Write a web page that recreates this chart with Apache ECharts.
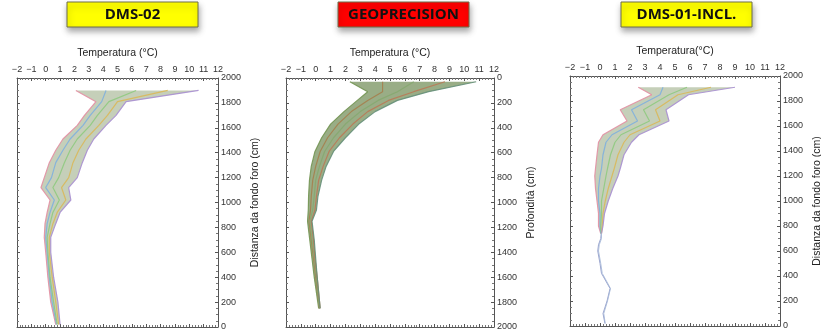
<!DOCTYPE html>
<html>
<head>
<meta charset="utf-8">
<script src="https://cdn.jsdelivr.net/npm/echarts/dist/echarts.min.js"></script>
<style>
html, body { margin: 0; padding: 0; background: #fff; }
#container { width: 821px; height: 334px; }
</style>
</head>
<body>
<div id="container"></div>
<script>
// DMS-02: distance from bottom of hole (cm) and temperature profiles (°C)
var depths1 = [1900, 1810, 1700, 1620, 1510, 1420, 1320, 1200, 1120, 1020, 920, 830, 720, 600, 400, 200, 20];
var cold1   = [2.1, 3.5, 2.7, 2.2, 1.2, 0.7, 0.25, -0.1, -0.33, 0.3, 0.1, -0.05, -0.1, 0.0, 0.15, 0.35, 0.7];
var mid1a   = [4.2, 3.9, 3.1, 2.6, 1.7, 1.2, 0.7, 0.4, 0.0, 0.6, 0.3, 0.1, 0.0, 0.1, 0.25, 0.45, 0.75];
var mid1b   = [6.3, 4.4, 3.6, 3.1, 2.2, 1.7, 1.3, 0.9, 0.5, 0.95, 0.5, 0.3, 0.1, 0.15, 0.3, 0.55, 0.8];
var mid1c   = [8.5, 5.0, 4.3, 3.7, 2.8, 2.3, 1.9, 1.6, 1.1, 1.4, 0.8, 0.5, 0.25, 0.25, 0.45, 0.7, 0.9];
var warm1   = [10.65, 5.6, 4.9, 4.2, 3.35, 2.9, 2.55, 2.2, 1.6, 1.75, 1.0, 0.7, 0.35, 0.35, 0.55, 0.85, 1.0];

// GEOPRECISION: depth (cm)
var depths2 = [30, 110, 180, 270, 370, 480, 590, 710, 820, 950, 1060, 1150, 1300, 1450, 1600, 1850];
var cold2   = [2.3, 3.5, 2.8, 1.9, 1.0, 0.4, -0.05, -0.3, -0.42, -0.48, -0.5, -0.55, -0.4, -0.25, -0.1, 0.2];
var mid2a   = [4.5, 4.5, 3.5, 2.4, 1.5, 0.8, 0.3, 0.0, -0.2, -0.3, -0.35, -0.45, -0.3, -0.15, 0.0, 0.25];
var mid2b   = [6.6, 5.5, 4.2, 3.0, 2.0, 1.2, 0.6, 0.25, 0.0, -0.1, -0.2, -0.4, -0.25, -0.1, 0.05, 0.25];
var mid2c   = [8.7, 6.6, 4.9, 3.5, 2.5, 1.6, 0.9, 0.5, 0.2, 0.05, -0.05, -0.3, -0.15, -0.05, 0.1, 0.3];
var warm2   = [10.8, 7.6, 5.5, 4.0, 2.9, 2.0, 1.2, 0.7, 0.4, 0.15, 0.05, -0.25, -0.1, 0.0, 0.1, 0.3];

// DMS-01-INCL.: distance from bottom of hole (cm)
var depths3 = [1910, 1850, 1730, 1640, 1530, 1470, 1370, 1260, 1200, 1100, 1000, 900, 800, 740];
var cold3   = [2.55, 3.45, 1.35, 1.8, 0.2, -0.1, -0.2, -0.3, -0.35, -0.3, -0.2, -0.1, -0.1, 0.05];
var mid3a   = [4.2, 4.0, 2.1, 2.5, 0.8, 0.4, 0.2, 0.1, 0.0, -0.1, -0.1, 0.0, 0.0, 0.05];
var mid3b   = [5.8, 4.6, 2.9, 3.3, 1.4, 1.0, 0.7, 0.5, 0.4, 0.25, 0.1, 0.1, 0.05, 0.08];
var mid3c   = [7.4, 5.2, 3.7, 4.0, 2.0, 1.6, 1.2, 0.95, 0.8, 0.55, 0.35, 0.2, 0.15, 0.1];
var warm3   = [9.0, 5.9, 4.4, 4.6, 2.6, 2.1, 1.6, 1.35, 1.2, 0.85, 0.55, 0.3, 0.2, 0.1];
var tailDepths3 = [740, 700, 650, 600, 500, 420, 400, 300, 200, 100, 20];
var tail3a      = [0.08, 0.05, -0.1, -0.15, 0.0, 0.1, 0.2, 0.67, 0.47, 0.2, 0.33];
var tail3b      = [0.1, 0.1, -0.05, -0.1, 0.05, 0.15, 0.25, 0.7, 0.5, 0.25, 0.35];

var tempTicks = [-2, 12];
var depthTicks = [0, 2000];

var lineColors = ['#e38fa3', '#7fb0de', '#8fca7f', '#d9b85a', '#a98fd2'];
var geoColors = ['#739553', '#a5804e', '#86a870', '#b97a58', '#66907a'];

var dom = document.getElementById('container');
var myChart = echarts.init(dom);

function pairs(depths, temps) {
    return depths.map(function (d, i) { return [temps[i], d]; });
}

function band(g, depths, cold, warm, fill) {
    return {
        type: 'custom',
        xAxisIndex: g * 2,
        yAxisIndex: g * 2,
        silent: true,
        clip: true,
        z: 1,
        data: [0],
        renderItem: function (params, api) {
            var pts = [];
            for (var i = 0; i < depths.length; i++) pts.push(api.coord([cold[i], depths[i]]));
            for (var j = depths.length - 1; j >= 0; j--) pts.push(api.coord([warm[j], depths[j]]));
            return { type: 'polygon', shape: { points: pts }, style: { fill: fill } };
        }
    };
}

function line(g, depths, temps, color, width) {
    return {
        type: 'line',
        xAxisIndex: g * 2,
        yAxisIndex: g * 2,
        data: pairs(depths, temps),
        showSymbol: false,
        silent: true,
        z: 2,
        lineStyle: { color: color, width: width || 1.2, opacity: 0.9 }
    };
}

function xAxes(g, name) {
    var common = {
        gridIndex: g, type: 'value', min: tempTicks[0], max: tempTicks[1], interval: 1,
        axisLine: { show: true, onZero: false, lineStyle: { color: '#555' } },
        axisTick: { show: true, inside: true, length: 3, lineStyle: { color: '#555' } },
        minorTick: { show: true, splitNumber: 5, length: 2, lineStyle: { color: '#777' } },
        splitLine: { show: false }
    };
    var top = Object.assign({}, common, {
        position: 'top',
        name: name,
        nameLocation: 'middle',
        nameGap: 19,
        nameTextStyle: { fontSize: 10.5, color: '#222', fontFamily: 'Liberation Sans' },
        axisLabel: {
            fontSize: 9, color: '#333', margin: 4, fontFamily: 'Liberation Sans',
            showMinLabel: true, showMaxLabel: true,
            formatter: function (v) { return String(v).replace('-', '\u2212'); }
        }
    });
    var bottom = Object.assign({}, common, { position: 'bottom', axisLabel: { show: false } });
    return [top, bottom];
}

function yAxes(g, name, inverse) {
    var common = {
        gridIndex: g, type: 'value', min: depthTicks[0], max: depthTicks[1], interval: 200,
        inverse: inverse,
        axisLine: { show: true, onZero: false, lineStyle: { color: '#555' } },
        axisTick: { show: true, inside: true, length: 3, lineStyle: { color: '#555' } },
        minorTick: { show: true, splitNumber: 4, length: 2, lineStyle: { color: '#777' } },
        splitLine: { show: false }
    };
    var right = Object.assign({}, common, {
        position: 'right',
        name: name,
        nameLocation: 'middle',
        nameGap: 32,
        nameTextStyle: { fontSize: 10.5, color: '#222', fontFamily: 'Liberation Sans' },
        axisLabel: {
            fontSize: 9, color: '#333', margin: 3, fontFamily: 'Liberation Sans',
            showMinLabel: true, showMaxLabel: true,
            formatter: function (v) { return String(v); }
        }
    });
    var left = Object.assign({}, common, { position: 'left', axisLabel: { show: false } });
    return [right, left];
}

function titleBox(x, text, fill) {
    return {
        type: 'group',
        children: [
            {
                type: 'rect',
                shape: { x: x, y: 2, width: 131, height: 25 },
                style: {
                    fill: fill, stroke: '#6f6f4a', lineWidth: 1,
                    shadowBlur: 6, shadowOffsetX: 1, shadowOffsetY: 4, shadowColor: 'rgba(0,0,0,0.35)'
                }
            },
            {
                type: 'text',
                x: x + 65.5,
                y: 15,
                style: {
                    text: text, fill: '#111', font: 'bold 15px "Open Sans"',
                    align: 'center', verticalAlign: 'middle'
                }
            }
        ]
    };
}

var series = [
    band(0, depths1, cold1, warm1, 'rgba(150,168,128,0.55)'),
    line(0, depths1, cold1, lineColors[0]),
    line(0, depths1, mid1a, lineColors[1]),
    line(0, depths1, mid1b, lineColors[2]),
    line(0, depths1, mid1c, lineColors[3]),
    line(0, depths1, warm1, lineColors[4]),

    band(1, depths2, cold2, warm2, 'rgba(128,152,104,0.8)'),
    line(1, depths2, cold2, geoColors[0]),
    line(1, depths2, mid2a, geoColors[1]),
    line(1, depths2, mid2b, geoColors[2]),
    line(1, depths2, mid2c, geoColors[3]),
    line(1, depths2, warm2, geoColors[4]),

    band(2, depths3, cold3, warm3, 'rgba(150,168,128,0.55)'),
    line(2, depths3, cold3, lineColors[0]),
    line(2, depths3, mid3a, lineColors[1]),
    line(2, depths3, mid3b, lineColors[2]),
    line(2, depths3, mid3c, lineColors[3]),
    line(2, depths3, warm3, lineColors[4]),
    line(2, tailDepths3, tail3a, '#8e98c8', 1),
    line(2, tailDepths3, tail3b, '#a7b9d8', 1)
];

option = {
    backgroundColor: '#fff',
    animation: false,
    grid: [
        { left: 17, top: 78, width: 201, height: 249, containLabel: false, outerBoundsMode: 'none' },
        { left: 286, top: 78, width: 208, height: 249, containLabel: false, outerBoundsMode: 'none' },
        { left: 570, top: 76, width: 210, height: 250, containLabel: false, outerBoundsMode: 'none' }
    ],
    xAxis: [].concat(
        xAxes(0, 'Temperatura (°C)'),
        xAxes(1, 'Temperatura (°C)'),
        xAxes(2, 'Temperatura(°C)')
    ),
    yAxis: [].concat(
        yAxes(0, 'Distanza da fondo foro (cm)', false),
        yAxes(1, 'Profondità (cm)', true),
        yAxes(2, 'Distanza da fondo foro (cm)', false)
    ),
    graphic: [
        titleBox(67, 'DMS-02', '#ffff00'),
        titleBox(338, 'GEOPRECISION', '#ff0000'),
        titleBox(621, 'DMS-01-INCL.', '#ffff00')
    ],
    series: series
};

if (option && typeof option === "object") {
    myChart.setOption(option, true);
}
</script>
</body>
</html>
